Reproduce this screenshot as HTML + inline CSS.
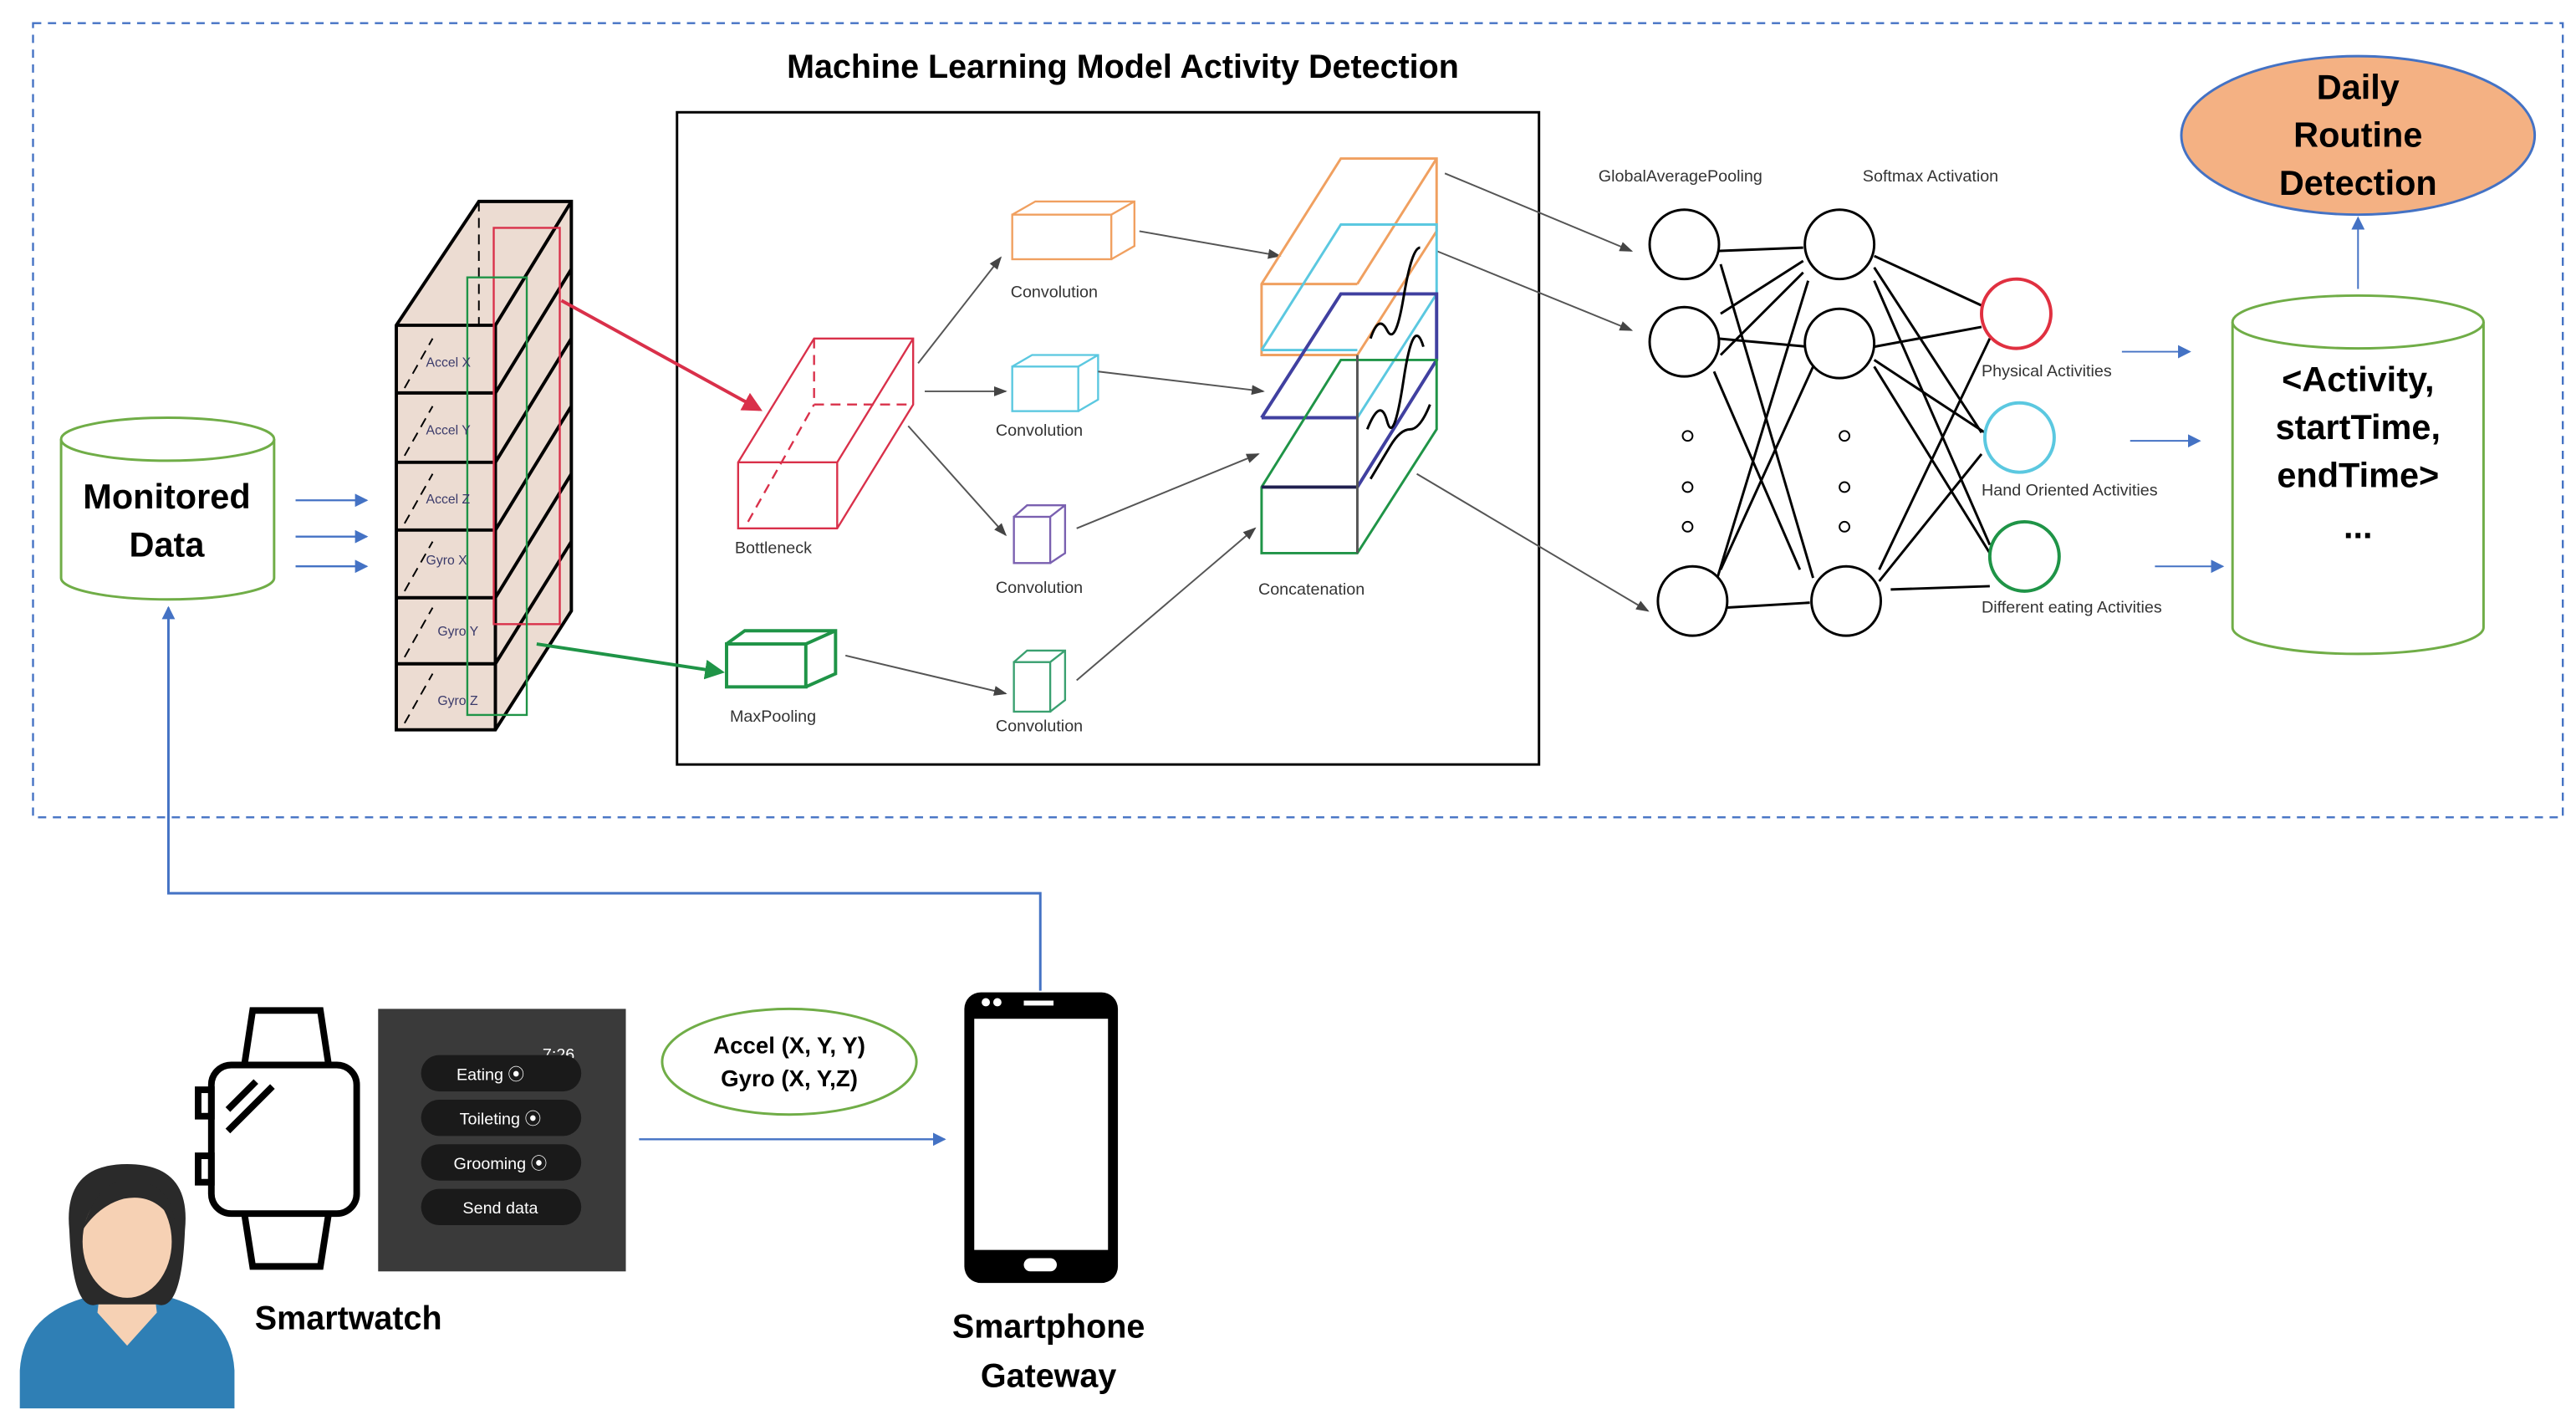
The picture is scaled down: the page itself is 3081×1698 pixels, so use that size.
<!DOCTYPE html>
<html><head><meta charset="utf-8"><style>
html,body{margin:0;padding:0;background:#fff}
svg{display:block}
text{font-family:"Liberation Sans",sans-serif}
</style></head><body>
<svg width="3081" height="1698" viewBox="0 0 1560 860" preserveAspectRatio="none" xmlns="http://www.w3.org/2000/svg">
<defs>
<marker id="ab" markerWidth="8" markerHeight="8" refX="7" refY="4" orient="auto" markerUnits="userSpaceOnUse"><path d="M0,0 L8,4 L0,8 z" fill="#4472c4"/></marker>
<marker id="ak" markerWidth="8" markerHeight="8" refX="7" refY="4" orient="auto" markerUnits="userSpaceOnUse"><path d="M0,1 L8,4 L0,7 z" fill="#444"/></marker>
<marker id="ar" markerWidth="12" markerHeight="12" refX="10" refY="6" orient="auto" markerUnits="userSpaceOnUse"><path d="M0,0 L12,6 L0,12 z" fill="#d9304a"/></marker>
<marker id="ag" markerWidth="12" markerHeight="12" refX="10" refY="6" orient="auto" markerUnits="userSpaceOnUse"><path d="M0,0 L12,6 L0,12 z" fill="#1f9447"/></marker>
</defs>
<rect x="20" y="14" width="1532" height="481" fill="none" stroke="#4472c4" stroke-dasharray="5,4" stroke-width="1.2"/>
<text x="680" y="47" font-size="20" font-weight="bold" text-anchor="middle">Machine Learning Model Activity Detection</text>
<rect x="410" y="68" width="522" height="395" fill="none" stroke="#000" stroke-width="1.5"/>

<!-- Monitored data cylinder -->
<path d="M37,266 L37,350 A64.5,13 0 0 0 166,350 L166,266" fill="#fff" stroke="#70ad47" stroke-width="1.5"/>
<ellipse cx="101.5" cy="266" rx="64.5" ry="13" fill="#fff" stroke="#70ad47" stroke-width="1.5"/>
<text x="101" y="308" font-size="21" font-weight="bold" text-anchor="middle">Monitored</text>
<text x="101" y="337" font-size="21" font-weight="bold" text-anchor="middle">Data</text>
<g stroke="#4472c4" stroke-width="1.2" marker-end="url(#ab)">
<line x1="179" y1="303" x2="222" y2="303"/><line x1="179" y1="325" x2="222" y2="325"/><line x1="179" y1="343" x2="222" y2="343"/></g>

<!-- sensor stack -->
<path d="M240,197 L290,122 L346,122 L346,370 L300,442 L240,442 z" fill="#ecdcd2" stroke="#000" stroke-width="2"/>
<g stroke="#000" stroke-width="2" fill="none">
<line x1="240" y1="197" x2="300" y2="197"/><line x1="300" y1="197" x2="300" y2="442"/><line x1="300" y1="197" x2="346" y2="122"/>
<line x1="240" y1="238" x2="300" y2="238"/><line x1="240" y1="280" x2="300" y2="280"/><line x1="240" y1="321" x2="300" y2="321"/><line x1="240" y1="362" x2="300" y2="362"/><line x1="240" y1="402" x2="300" y2="402"/>
<line x1="300" y1="238" x2="346" y2="163"/><line x1="300" y1="280" x2="346" y2="205"/><line x1="300" y1="321" x2="346" y2="246"/><line x1="300" y1="362" x2="346" y2="287"/><line x1="300" y1="402" x2="346" y2="328"/>
</g>
<g stroke="#000" stroke-width="1" stroke-dasharray="6,4" fill="none">
<line x1="290" y1="122" x2="290" y2="197"/><line x1="245" y1="235" x2="262" y2="205"/><line x1="245" y1="276" x2="262" y2="246"/><line x1="245" y1="317" x2="262" y2="287"/><line x1="245" y1="358" x2="262" y2="328"/><line x1="245" y1="398" x2="262" y2="368"/><line x1="245" y1="438" x2="262" y2="408"/></g>
<rect x="299" y="138" width="40" height="240" fill="none" stroke="#d9304a" stroke-width="1.2"/>
<rect x="283" y="168" width="36" height="265" fill="none" stroke="#1f9447" stroke-width="1.2"/>
<g font-size="8" fill="#3a3a6a"><text x="258" y="222">Accel X</text><text x="258" y="263">Accel Y</text><text x="258" y="305">Accel Z</text><text x="258" y="342">Gyro X</text><text x="265" y="385">Gyro Y</text><text x="265" y="427">Gyro Z</text></g>
<line x1="340" y1="182" x2="460" y2="248" stroke="#d9304a" stroke-width="2" marker-end="url(#ar)"/>
<line x1="325" y1="390" x2="437" y2="407" stroke="#1f9447" stroke-width="2" marker-end="url(#ag)"/>

<!-- bottleneck -->
<g stroke="#d9304a" stroke-width="1.2" fill="none">
<path d="M447,280 L493,205 L553,205 L553,245 L507,320 L447,320 z"/><line x1="447" y1="280" x2="507" y2="280"/><line x1="507" y1="280" x2="553" y2="205"/><line x1="507" y1="280" x2="507" y2="320"/>
<path d="M493,205 L493,245 L553,245" stroke-dasharray="6,4"/><line x1="453" y1="316" x2="493" y2="245" stroke-dasharray="6,4"/></g>
<text x="445" y="335" font-size="10" fill="#333">Bottleneck</text>
<!-- maxpool -->
<g stroke="#1f9447" stroke-width="2" fill="none"><rect x="440" y="390" width="48" height="26"/><path d="M440,390 L451,382 L506,382 L506,408 L488,416 M488,390 L506,382"/></g>
<text x="442" y="437" font-size="10" fill="#333">MaxPooling</text>
<!-- convs -->
<g stroke="#f0a060" stroke-width="1.2" fill="none"><rect x="613" y="130" width="60" height="27"/><path d="M613,130 L627,122 L687,122 L687,149 L673,157 M673,130 L687,122"/></g>
<text x="612" y="180" font-size="10" fill="#333">Convolution</text>
<g stroke="#5bc8e0" stroke-width="1.2" fill="none"><rect x="613" y="222" width="40" height="27"/><path d="M613,222 L625,215 L665,215 L665,242 L653,249 M653,222 L665,215"/></g>
<text x="603" y="264" font-size="10" fill="#333">Convolution</text>
<g stroke="#7a60b0" stroke-width="1.2" fill="none"><rect x="614" y="313" width="22" height="28"/><path d="M614,313 L622,306 L645,306 L645,335 L636,341 M636,313 L645,306"/></g>
<text x="603" y="359" font-size="10" fill="#333">Convolution</text>
<g stroke="#3aa070" stroke-width="1.2" fill="none"><rect x="614" y="401" width="22" height="30"/><path d="M614,401 L622,394 L645,394 L645,424 L636,431 M636,401 L645,394"/></g>
<text x="603" y="443" font-size="10" fill="#333">Convolution</text>
<g stroke="#555" stroke-width="1" marker-end="url(#ak)">
<line x1="556" y1="220" x2="606" y2="156"/><line x1="560" y1="237" x2="609" y2="237"/><line x1="550" y1="258" x2="609" y2="324"/>
<line x1="512" y1="397" x2="609" y2="420"/><line x1="690" y1="140" x2="775" y2="155"/><line x1="665" y1="225" x2="765" y2="237"/>
<line x1="652" y1="320" x2="762" y2="275"/><line x1="652" y1="412" x2="760" y2="320"/>
<line x1="875" y1="105" x2="988" y2="152"/><line x1="870" y1="152" x2="988" y2="200"/><line x1="858" y1="287" x2="998" y2="370"/></g>

<!-- concatenation -->
<g fill="none" stroke-width="1.5">
<path d="M764,172 L812,96 L870,96 L870,140 L822,215 L764,215 z" stroke="#f0a060"/><line x1="764" y1="172" x2="822" y2="172" stroke="#f0a060"/><line x1="822" y1="172" x2="870" y2="96" stroke="#f0a060"/>
<path d="M764,212 L812,136 L870,136 L870,178 L822,253" stroke="#5bc8e0"/><line x1="764" y1="212" x2="822" y2="212" stroke="#5bc8e0"/>
<path d="M764,253 L812,178 L870,178 L870,218 L822,295" stroke="#4040a0" stroke-width="2"/><line x1="764" y1="253" x2="822" y2="253" stroke="#4040a0" stroke-width="2"/>
<path d="M764,295 L812,218 L870,218 L870,260 L822,335 L764,335 z" stroke="#1f9447"/><line x1="764" y1="295" x2="822" y2="295" stroke="#202050" stroke-width="2"/><line x1="822" y1="215" x2="822" y2="335" stroke="#555"/>
<path d="M830,205 q5,-15 10,-5 t10,-20 t10,-30 M828,260 q8,-20 12,-5 t10,-25 t12,-20 M830,290 q6,-10 12,-20 t12,-10 t12,-15" stroke="#000" stroke-width="1.5"/>
</g>
<text x="762" y="360" font-size="10" fill="#333">Concatenation</text>

<!-- neural net -->
<text x="968" y="110" font-size="10" fill="#333">GlobalAveragePooling</text>
<text x="1128" y="110" font-size="10" fill="#333">Softmax Activation</text>
<g stroke="#000" stroke-width="1.5">
<line x1="1040" y1="152" x2="1092" y2="150"/><line x1="1040" y1="205" x2="1095" y2="210"/><line x1="1045" y1="368" x2="1096" y2="365"/>
<line x1="1042" y1="160" x2="1098" y2="350"/><line x1="1042" y1="215" x2="1092" y2="165"/><line x1="1042" y1="190" x2="1092" y2="158"/>
<line x1="1040" y1="350" x2="1095" y2="170"/><line x1="1038" y1="225" x2="1090" y2="345"/><line x1="1042" y1="345" x2="1098" y2="222"/>
<line x1="1135" y1="155" x2="1200" y2="185"/><line x1="1135" y1="162" x2="1200" y2="262"/><line x1="1135" y1="170" x2="1205" y2="330"/>
<line x1="1135" y1="210" x2="1200" y2="198"/><line x1="1135" y1="218" x2="1202" y2="262"/><line x1="1135" y1="222" x2="1205" y2="335"/>
<line x1="1138" y1="345" x2="1205" y2="205"/><line x1="1138" y1="352" x2="1200" y2="275"/><line x1="1145" y1="357" x2="1205" y2="355"/>
</g>
<g fill="#fff" stroke="#000" stroke-width="1.5">
<circle cx="1020" cy="148" r="21"/><circle cx="1020" cy="207" r="21"/><circle cx="1025" cy="364" r="21"/>
<circle cx="1114" cy="148" r="21"/><circle cx="1114" cy="208" r="21"/><circle cx="1118" cy="364" r="21"/></g>
<g fill="#fff" stroke="#000"><circle cx="1022" cy="264" r="3"/><circle cx="1022" cy="295" r="3"/><circle cx="1022" cy="319" r="3"/><circle cx="1117" cy="264" r="3"/><circle cx="1117" cy="295" r="3"/><circle cx="1117" cy="319" r="3"/></g>
<circle cx="1221" cy="190" r="21" fill="#fff" stroke="#e03040" stroke-width="2"/>
<circle cx="1223" cy="265" r="21" fill="#fff" stroke="#5bc8e0" stroke-width="2"/>
<circle cx="1226" cy="337" r="21" fill="#fff" stroke="#1f9447" stroke-width="2"/>
<g font-size="10" fill="#333"><text x="1200" y="228">Physical Activities</text><text x="1200" y="300">Hand Oriented Activities</text><text x="1200" y="371">Different eating Activities</text></g>
<g stroke="#4472c4" stroke-width="1" marker-end="url(#ab)"><line x1="1285" y1="213" x2="1326" y2="213"/><line x1="1290" y1="267" x2="1332" y2="267"/><line x1="1305" y1="343" x2="1346" y2="343"/><line x1="1428" y1="175" x2="1428" y2="132"/></g>

<!-- result cylinder -->
<path d="M1352,195 L1352,380 A76,16 0 0 0 1504,380 L1504,195" fill="#fff" stroke="#70ad47" stroke-width="1.5"/>
<ellipse cx="1428" cy="195" rx="76" ry="16" fill="#fff" stroke="#70ad47" stroke-width="1.5"/>
<g font-size="21" font-weight="bold" text-anchor="middle"><text x="1428" y="237">&lt;Activity,</text><text x="1428" y="266">startTime,</text><text x="1428" y="295">endTime&gt;</text><text x="1428" y="326">...</text></g>
<ellipse cx="1428" cy="82" rx="107" ry="48" fill="#f4b183" stroke="#4472c4" stroke-width="1.5"/>
<g font-size="21" font-weight="bold" text-anchor="middle"><text x="1428" y="60">Daily</text><text x="1428" y="89">Routine</text><text x="1428" y="118">Detection</text></g>

<!-- feedback line -->
<polyline points="630,600 630,541 102,541 102,368" fill="none" stroke="#4472c4" stroke-width="1.5" marker-end="url(#ab)"/>

<!-- person -->
<path d="M12,853 L12,830 Q14,795 55,785 L100,785 Q140,795 142,830 L142,853 z" fill="#2f7fb5"/>
<path d="M62,770 L92,770 L95,795 L77,815 L59,795 z" fill="#f6d1b4"/>
<path d="M42,745 Q38,705 77,705 Q116,705 112,745 Q110,795 95,790 L59,790 Q44,795 42,745 z" fill="#2a2a2a"/>
<ellipse cx="77" cy="752" rx="27" ry="34" fill="#f6d1b4"/>
<path d="M50,745 Q60,712 80,715 Q104,716 106,742 Q95,722 75,726 Q60,730 50,745z" fill="#2a2a2a"/>
<!-- watch -->
<g fill="none" stroke="#000" stroke-width="4">
<path d="M148,645 L153,612 L194,612 L199,645 M148,735 L153,767 L194,767 L199,735"/>
<rect x="128" y="645" width="88" height="90" rx="12"/>
<rect x="120" y="660" width="8" height="16"/><rect x="120" y="700" width="8" height="16"/>
<line x1="138" y1="672" x2="155" y2="655"/><line x1="138" y1="685" x2="165" y2="658"/></g>
<text x="211" y="805" font-size="20" font-weight="bold" text-anchor="middle">Smartwatch</text>
<rect x="229" y="611" width="150" height="159" fill="#3a3a3a"/>
<text x="348" y="642" font-size="10" fill="#fff" text-anchor="end">7:26</text>
<g fill="#1a1a1a"><rect x="255" y="639" width="97" height="22" rx="11"/><rect x="255" y="666" width="97" height="22" rx="11"/><rect x="255" y="693" width="97" height="22" rx="11"/><rect x="255" y="720" width="97" height="22" rx="11"/></g>
<g font-size="10" fill="#fff" text-anchor="middle"><text x="297" y="654">Eating ⦿</text><text x="303" y="681">Toileting ⦿</text><text x="303" y="708">Grooming ⦿</text><text x="303" y="735">Send data</text></g>
<ellipse cx="478" cy="643" rx="77" ry="32" fill="#fff" stroke="#70ad47" stroke-width="1.5"/>
<g font-size="14" font-weight="bold" text-anchor="middle"><text x="478" y="638">Accel (X, Y, Y)</text><text x="478" y="658">Gyro (X, Y,Z)</text></g>
<line x1="387" y1="690" x2="572" y2="690" stroke="#4472c4" stroke-width="1.2" marker-end="url(#ab)"/>
<!-- phone -->
<rect x="584" y="601" width="93" height="176" rx="10" fill="#000"/>
<rect x="590" y="617" width="81" height="140" fill="#fff"/>
<rect x="620" y="762" width="20" height="8" rx="4" fill="#fff"/>
<circle cx="597" cy="607" r="2.5" fill="#fff"/><circle cx="604" cy="607" r="2.5" fill="#fff"/><rect x="620" y="606" width="18" height="3" fill="#fff"/>
<g font-size="20" font-weight="bold" text-anchor="middle"><text x="635" y="810">Smartphone</text><text x="635" y="840">Gateway</text></g>
</svg>
</body></html>
